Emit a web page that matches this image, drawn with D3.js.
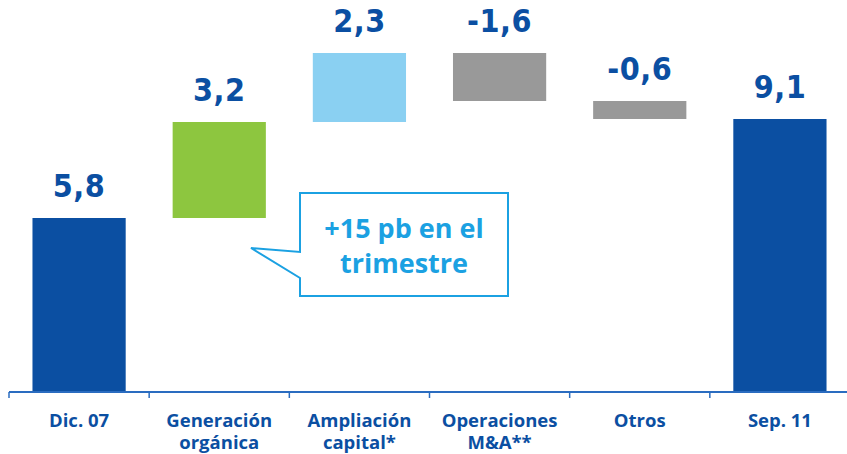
<!DOCTYPE html>
<html>
<head>
<meta charset="utf-8">
<script src="https://cdn.jsdelivr.net/npm/d3@7"></script>
<style>
  body { margin: 0; background: #fff; }
  svg { display: block; }
</style>
</head>
<body>
<div id="chart"></div>
<script>
// waterfall data
var categories = ["Dic. 07", "Generación\norgánica", "Ampliación\ncapital*", "Operaciones\nM&A**", "Otros", "Sep. 11"];
var values = [5.8, 3.2, 2.3, -1.6, -0.6, 9.1];
var kinds = ["total", "up", "up", "down", "down", "total"];
var valueLabels = ["5,8", "3,2", "2,3", "-1,6", "-0,6", "9,1"];
var calloutText = ["+15 pb en el", "trimestre"];

var colors = { total: "#0b4fa2", down: "#999999" };
var upColors = ["#8dc63f", "#8ad0f2"];
var textBlue = "#0b4fa2";

var width = 847, height = 454;

var svg = d3.select("#chart").append("svg")
            .attr("width", width)
            .attr("height", height);

var x = d3.scaleBand()
          .domain(d3.range(categories.length))
          .range([9, 850])
          .padding(0);

var y = d3.scaleLinear()
          .domain([0, 13.0667])
          .range([392, 0]);

// compute start/end for each bar
var running = 0;
var bars = values.map(function(v, i) {
  var b;
  if (kinds[i] == "total") {
    b = { y0: 0, y1: v };
    running = v;
  } else {
    b = { y0: running, y1: running + v };
    running = running + v;
  }
  b.i = i;
  b.kind = kinds[i];
  return b;
});

var upIndex = 0;
bars.forEach(function(b) {
  if (b.kind == "up") { b.color = upColors[upIndex++]; }
  else { b.color = colors[b.kind]; }
});

var barW = x.bandwidth() * 0.665;

svg.selectAll("rect.bar")
   .data(bars)
   .enter()
   .append("rect")
   .attr("class", "bar")
   .attr("x", function(d) { return x(d.i) + (x.bandwidth() - barW) / 2; })
   .attr("y", function(d) { return y(Math.max(d.y0, d.y1)); })
   .attr("width", barW)
   .attr("height", function(d) { return Math.abs(y(d.y0) - y(d.y1)); })
   .style("fill", function(d) { return d.color; });

// value labels above the upper edge
svg.selectAll("text.val")
   .data(bars)
   .enter()
   .append("text")
   .attr("class", "val")
   .attr("x", function(d) { return x(d.i) + x.bandwidth() / 2; })
   .attr("y", function(d) { return y(Math.max(d.y0, d.y1)) - 21; })
   .attr("text-anchor", "middle")
   .style("font-family", "'Liberation Sans Narrow', 'DejaVu Sans Condensed', sans-serif")
   .style("font-weight", "bold")
   .style("font-size", "32px")
   .style("letter-spacing", "0.5px")
   .style("fill", textBlue)
   .text(function(d) { return valueLabels[d.i]; });

// axis
var gx = svg.append("g")
            .attr("transform", "translate(0,392)");

gx.append("line")
  .attr("x1", 9).attr("x2", 850)
  .attr("y1", 0).attr("y2", 0)
  .style("stroke", "#2a6cc0")
  .style("stroke-width", 2);

gx.selectAll("line.tk")
  .data(d3.range(categories.length + 1))
  .enter()
  .append("line")
  .attr("class", "tk")
  .attr("x1", function(d) { return d < categories.length ? x(d) : x(d - 1) + x.bandwidth(); })
  .attr("x2", function(d) { return d < categories.length ? x(d) : x(d - 1) + x.bandwidth(); })
  .attr("y1", 0).attr("y2", 6)
  .style("stroke", "#2a6cc0")
  .style("stroke-width", 1.5);

var catText = gx.selectAll("text.cat")
  .data(categories)
  .enter()
  .append("text")
  .attr("class", "cat")
  .attr("x", function(d, i) { return x(i) + x.bandwidth() / 2; })
  .attr("y", 35)
  .attr("text-anchor", "middle")
  .style("font-family", "'Open Sans', sans-serif")
  .style("font-weight", "bold")
  .style("font-size", "18.5px")
  .style("fill", textBlue);

catText.each(function(d) {
  var t = d3.select(this);
  d.split("\n").forEach(function(line, k) {
    t.append("tspan")
     .attr("x", t.attr("x"))
     .attr("dy", k == 0 ? 0 : 22)
     .text(line);
  });
});

// callout bubble
var box = { x: 300, y: 193, w: 208, h: 103 };
var tip = [251, 248];
var path = d3.path();
path.moveTo(box.x, box.y);
path.lineTo(box.x + box.w, box.y);
path.lineTo(box.x + box.w, box.y + box.h);
path.lineTo(box.x, box.y + box.h);
path.lineTo(box.x, 278);
path.lineTo(tip[0], tip[1]);
path.lineTo(box.x, 252);
path.closePath();

svg.append("path")
   .attr("d", path.toString())
   .style("fill", "#fff")
   .style("stroke", "#1ba1e2")
   .style("stroke-width", 2);

svg.selectAll("text.callout")
   .data(calloutText)
   .enter()
   .append("text")
   .attr("class", "callout")
   .attr("x", box.x + box.w / 2)
   .attr("y", function(d, i) { return 238 + i * 35; })
   .attr("text-anchor", "middle")
   .style("font-family", "'Open Sans', sans-serif")
   .style("font-weight", "bold")
   .style("font-size", "27px")
   .style("fill", "#1ba1e2")
   .text(function(d) { return d; });
</script>
</body>
</html>
